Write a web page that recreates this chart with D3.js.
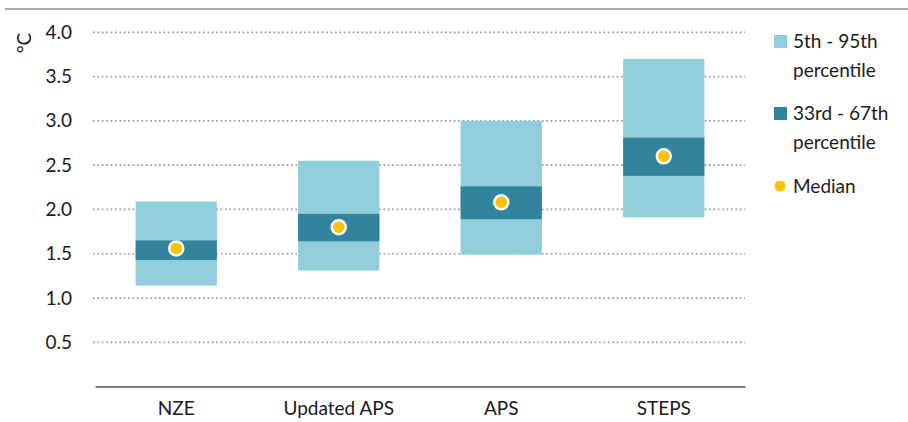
<!DOCTYPE html>
<html>
<head>
<meta charset="utf-8">
<script src="https://cdn.jsdelivr.net/npm/d3@7"></script>
<style>
  body { margin: 0; background: #fff; }
  svg { display: block; font-family: Lato, "Open Sans", sans-serif; }
</style>
</head>
<body>
<div id="chart"></div>
<script>
// Temperature rise ranges by scenario
const scenarios = ['NZE', 'Updated APS', 'APS', 'STEPS'];
const p5 = [1.14, 1.31, 1.49, 1.91];
const p95 = [2.09, 2.55, 3.0, 3.70];
const p33 = [1.43, 1.64, 1.89, 2.38];
const p67 = [1.65, 1.95, 2.26, 2.81];
const median = [1.56, 1.80, 2.08, 2.60];
const yTicks = [0.5, 1.0, 1.5, 2.0, 2.5, 3.0, 3.5, 4.0];
const legendItems = [
  { lines: ['5th - 95th', 'percentile'], kind: 'outer' },
  { lines: ['33rd - 67th', 'percentile'], kind: 'inner' },
  { lines: ['Median'], kind: 'median' }
];

const colors = { outer: '#92cddc', inner: '#31849b', median: '#ffc000' };

const width = 908, height = 422;
const svg = d3.select('#chart').append('svg')
  .attr('width', width)
  .attr('height', height);

const x = d3.scaleBand()
  .domain(scenarios)
  .range([95, 745])
  .paddingInner(0.5)
  .paddingOuter(0.25);

const y = d3.scaleLinear()
  .domain([0, 4])
  .range([386.6, 32.3]);

// top rule
svg.append('line')
  .attr('x1', 5).attr('x2', width)
  .attr('y1', 9).attr('y2', 9)
  .attr('stroke', '#8c8c8c')
  .attr('stroke-width', 1.5);

// gridlines
svg.append('g')
  .selectAll('line')
  .data(yTicks)
  .join('line')
  .attr('x1', 93).attr('x2', 745)
  .attr('y1', d => y(d)).attr('y2', d => y(d))
  .attr('stroke', '#9a9a9a')
  .attr('stroke-width', 1.7)
  .attr('stroke-dasharray', '1.7,2.7');

// y axis labels
const yAxis = svg.append('g')
  .attr('transform', 'translate(72,0)')
  .call(d3.axisLeft(y).tickValues(yTicks).tickFormat(d3.format('.1f')).tickSize(0).tickPadding(0));
yAxis.select('.domain').remove();
yAxis.selectAll('text')
  .attr('font-size', 19)
  .attr('font-family', 'Lato, sans-serif')
  .attr('fill', '#1a1a1a');

svg.append('text')
  .attr('transform', 'translate(31,43) rotate(-90)')
  .attr('text-anchor', 'middle')
  .attr('font-size', 19)
  .attr('fill', '#1a1a1a')
  .text('°C');

const rows = scenarios.map((s, i) => ({
  name: s, p5: p5[i], p95: p95[i], p33: p33[i], p67: p67[i], median: median[i]
}));

// 5th-95th boxes
svg.append('g')
  .selectAll('rect')
  .data(rows)
  .join('rect')
  .attr('x', d => x(d.name))
  .attr('width', x.bandwidth())
  .attr('y', d => y(d.p95))
  .attr('height', d => y(d.p5) - y(d.p95))
  .attr('fill', colors.outer);

// 33rd-67th boxes
svg.append('g')
  .selectAll('rect')
  .data(rows)
  .join('rect')
  .attr('x', d => x(d.name))
  .attr('width', x.bandwidth())
  .attr('y', d => y(d.p67))
  .attr('height', d => y(d.p33) - y(d.p67))
  .attr('fill', colors.inner);

// medians
svg.append('g')
  .selectAll('circle')
  .data(rows)
  .join('circle')
  .attr('cx', d => x(d.name) + x.bandwidth() / 2)
  .attr('cy', d => y(d.median))
  .attr('r', 7)
  .attr('fill', colors.median)
  .attr('stroke', '#fff')
  .attr('stroke-width', 2.5);

// x axis
const xAxis = svg.append('g')
  .attr('transform', `translate(0,${y(0)})`)
  .call(d3.axisBottom(x).tickSize(0).tickPadding(15));
xAxis.select('.domain')
  .attr('stroke', '#595959')
  .attr('stroke-width', 1.5);
xAxis.selectAll('text')
  .attr('font-size', 19)
  .attr('font-family', 'Lato, sans-serif')
  .attr('fill', '#1a1a1a');

// legend
const legendY = [48, 120, 193];
const legend = svg.append('g');
legendItems.forEach((item, i) => {
  const g = legend.append('g').attr('transform', `translate(774,${legendY[i]})`);
  if (item.kind === 'median') {
    g.append('circle')
      .attr('cx', 6).attr('cy', -7)
      .attr('r', 5.5)
      .attr('fill', colors.median);
  } else {
    g.append('rect')
      .attr('x', 0).attr('y', -13)
      .attr('width', 13).attr('height', 13)
      .attr('fill', colors[item.kind]);
  }
  const t = g.append('text')
    .attr('x', 19)
    .attr('font-size', 19)
    .attr('fill', '#1a1a1a');
  item.lines.forEach((ln, j) => {
    t.append('tspan').attr('x', 19).attr('y', j * 28.5).text(ln);
  });
});
</script>
</body>
</html>
